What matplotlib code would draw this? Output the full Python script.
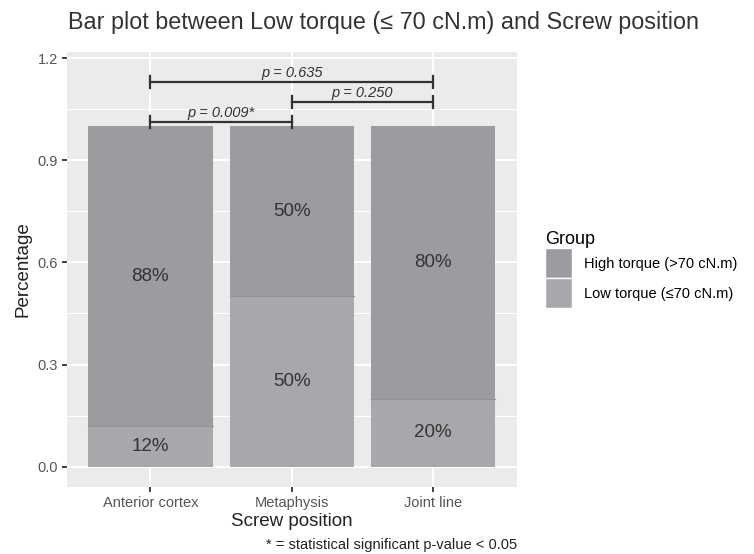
import matplotlib
matplotlib.use("Agg")
import matplotlib.pyplot as plt
from matplotlib.patches import Patch
from matplotlib.ticker import MultipleLocator

plt.rcParams['font.family'] = ['Liberation Sans', 'DejaVu Sans']

# data
positions = ["Anterior cortex", "Metaphysis", "Joint line"]
low_torque = [0.12, 0.50, 0.20]
high_torque = [0.88, 0.50, 0.80]
low_labels = ["12%", "50%", "20%"]
high_labels = ["88%", "50%", "80%"]
y_ticks = [0.0, 0.3, 0.6, 0.9, 1.2]

# significance brackets: (from, to, height, text)
brackets = [(0, 1, 1.012, "p = 0.009*"),
            (1, 2, 1.071, "p = 0.250"),
            (0, 2, 1.130, "p = 0.635")]

col_high = "#9c9ca0"
col_low = "#a8a8ac"
panel_bg = "#ebebeb"

fig = plt.figure(figsize=(7.54, 5.54), dpi=100)
ax = fig.add_axes([67/754, 1 - 486.7/554, 450/754, 435/554])
ax.set_facecolor(panel_bg)

x = list(range(len(positions)))
ax.bar(x, low_torque, width=0.88, color=col_low, edgecolor="none", zorder=2)
ax.bar(x, high_torque, bottom=low_torque, width=0.88, color=col_high, edgecolor="none", zorder=2)
# thin seam between the stacked segments
for i in x:
    ax.plot([i - 0.44, i + 0.44], [low_torque[i], low_torque[i]], color="#939397", lw=0.8, zorder=3)

for i in x:
    ax.text(i, low_torque[i] / 2, low_labels[i], ha="center", va="center",
            fontsize=13.5, color="#333333", zorder=4)
    ax.text(i, low_torque[i] + high_torque[i] / 2, high_labels[i], ha="center", va="center",
            fontsize=13.5, color="#333333", zorder=4)

cap = 0.018
for a, b, h, txt in brackets:
    ax.plot([a, b], [h, h], color="#333333", lw=1.6, zorder=5)
    ax.plot([a, a], [h - cap, h + cap], color="#333333", lw=1.6, zorder=5)
    ax.plot([b, b], [h - cap, h + cap], color="#333333", lw=1.6, zorder=5)
    ax.text((a + b) / 2, h + 0.005, txt, ha="center", va="bottom", fontsize=10.5,
            style="italic", color="#333333", zorder=5)

ax.set_xlim(-0.59, 2.594)
ax.set_ylim(-0.0588, 1.219)
ax.set_xticks(x)
ax.set_xticklabels(positions)
ax.set_yticks(y_ticks)
ax.set_yticklabels(["%.1f" % v for v in y_ticks])
ax.yaxis.set_minor_locator(MultipleLocator(0.15))
ax.grid(which="major", color="white", lw=1.5, zorder=0)
ax.grid(which="minor", axis="y", color="white", lw=0.7, zorder=0)
ax.set_axisbelow(True)
for s in ax.spines.values():
    s.set_visible(False)
ax.tick_params(axis="both", which="major", length=3.5, width=1.3, color="#333333",
               labelsize=10.5, labelcolor="#555555", pad=3)
ax.tick_params(axis="both", which="minor", length=0)

ax.set_xlabel("Screw position", fontsize=13.5, color="#222222", labelpad=2)
ax.set_ylabel("Percentage", fontsize=13.5, color="#222222", labelpad=4)

fig.text(68/754, 1 - 22/554, "Bar plot between Low torque (\u2264 70 cN.m) and Screw position",
         fontsize=16.8, color="#333333", ha="left", va="center")
fig.text(517/754, 1 - 545/554, "* = statistical significant p-value < 0.05",
         fontsize=10.5, color="#222222", ha="right", va="center")

handles = [Patch(facecolor=col_high, edgecolor="white", label="High torque (>70 cN.m)"),
           Patch(facecolor=col_low, edgecolor="white", label="Low torque (\u226470 cN.m)")]
leg = fig.legend(handles=handles, title="Group", loc="upper left",
                 bbox_to_anchor=(532/754, 1 - 218/554), frameon=False,
                 fontsize=10.5, title_fontsize=13, handlelength=1.85, handleheight=2.8,
                 handletextpad=0.8, labelspacing=0.0)
leg._legend_box.align = "left"

fig.savefig("out.png", dpi=100)
